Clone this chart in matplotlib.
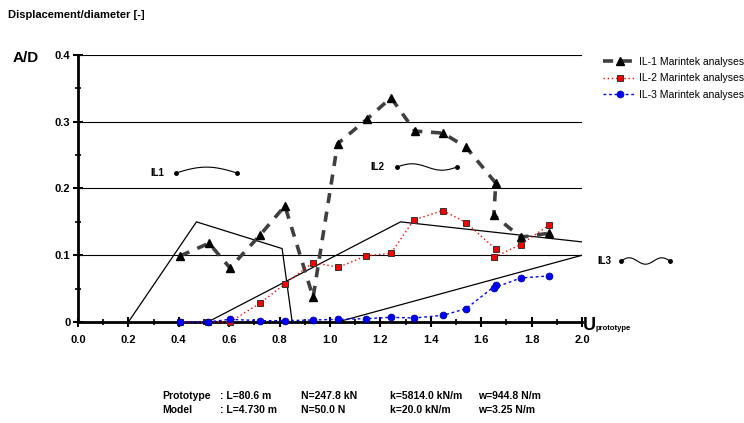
import numpy as np
import matplotlib.pyplot as plt
from matplotlib.ticker import MultipleLocator, FormatStrFormatter, FixedFormatter

plt.rcParams['font.family'] = ['Liberation Sans', 'DejaVu Sans']

# IL-1 Marintek analyses
il1_u = [0.405, 0.52, 0.603, 0.722, 0.821, 0.933, 1.03, 1.147, 1.242, 1.337,
         1.448, 1.54, 1.658, 1.65, 1.757, 1.869]
il1_ad = [0.099, 0.118, 0.081, 0.130, 0.174, 0.037, 0.267, 0.304, 0.336, 0.286,
          0.283, 0.262, 0.208, 0.160, 0.127, 0.133]

# IL-2 Marintek analyses
il2_u = [0.405, 0.515, 0.603, 0.722, 0.821, 0.933, 1.033, 1.143, 1.242, 1.333,
         1.448, 1.54, 1.658, 1.65, 1.757, 1.869]
il2_ad = [0.0, 0.0, 0.0, 0.028, 0.057, 0.089, 0.082, 0.099, 0.103, 0.153,
          0.167, 0.149, 0.109, 0.097, 0.116, 0.145]

# IL-3 Marintek analyses
il3_u = [0.405, 0.515, 0.603, 0.722, 0.821, 0.933, 1.033, 1.143, 1.242, 1.333,
         1.448, 1.54, 1.658, 1.65, 1.757, 1.869]
il3_ad = [0.0, 0.0, 0.004, 0.002, 0.002, 0.003, 0.004, 0.005, 0.007, 0.006,
          0.010, 0.020, 0.055, 0.051, 0.066, 0.069]

# lock-in envelopes
env1_u = [0.2, 0.47, 0.81, 0.85]
env1_ad = [0.0, 0.15, 0.11, 0.0]
env2_u = [0.515, 1.28, 2.0]
env2_ad = [0.0, 0.15, 0.12]
env3_u = [1.03, 2.0]
env3_ad = [0.0, 0.1]

y_ticklabels = ['0', '0.1', '0.2', '0.3', '0.4']

prototype = ['Prototype', ': L=80.6 m', 'N=247.8 kN', 'k=5814.0 kN/m', 'w=944.8 N/m']
model = ['Model', ': L=4.730 m', 'N=50.0 N', 'k=20.0 kN/m', 'w=3.25 N/m']

fig = plt.figure(figsize=(7.44, 4.23), dpi=100)
ax = fig.add_axes([78 / 744, 1 - 322 / 423, 504 / 744, 267 / 423])

for y in [0.1, 0.2, 0.3, 0.4]:
    ax.axhline(y, color='black', lw=0.8, zorder=1)

ax.plot(env1_u, env1_ad, color='black', lw=0.9, zorder=2)
ax.plot(env2_u, env2_ad, color='black', lw=0.9, zorder=2)
ax.plot(env3_u, env3_ad, color='black', lw=0.9, zorder=2)

ax.plot(il1_u, il1_ad, color='#404040', lw=2.6, dashes=(2.8, 2.4), marker='^',
        ms=6, mfc='black', mec='black', label='IL-1 Marintek analyses',
        zorder=4, clip_on=False)
ax.plot(il2_u, il2_ad, color='red', lw=1.0, ls=(0, (1, 2)), marker='s',
        ms=5, mfc='red', mec='#333333', mew=0.7, label='IL-2 Marintek analyses',
        zorder=5, clip_on=False)
ax.plot(il3_u, il3_ad, color='blue', lw=1.0, ls=(0, (2, 2)), marker='o',
        ms=5, mfc='blue', mec='#000080', mew=0.5, label='IL-3 Marintek analyses',
        zorder=6, clip_on=False)

ax.set_xlim(0, 2.0)
ax.set_ylim(0, 0.4)
ax.xaxis.set_major_locator(MultipleLocator(0.2))
ax.xaxis.set_minor_locator(MultipleLocator(0.1))
ax.xaxis.set_major_formatter(FormatStrFormatter('%.1f'))
ax.set_yticks([0, 0.1, 0.2, 0.3, 0.4])
ax.yaxis.set_major_formatter(FixedFormatter(y_ticklabels))
ax.yaxis.set_minor_locator(MultipleLocator(0.05))
ax.tick_params(which='major', direction='inout', length=7, width=1.5,
               labelsize=8)
ax.tick_params(which='minor', direction='inout', length=4, width=1.2)
ax.tick_params(axis='x', pad=6)
ax.tick_params(axis='y', pad=2)
for lab in ax.get_xticklabels() + ax.get_yticklabels():
    lab.set_fontweight('bold')

for side in ['top', 'right']:
    ax.spines[side].set_visible(False)
ax.spines['left'].set_linewidth(2)
ax.spines['bottom'].set_linewidth(2)
ax.patch.set_alpha(0)

# small sketches of the in-line modes
def sketch(x0, x1, y0, shape, label, lx):
    t = np.linspace(0, 1, 60)
    xs = x0 + (x1 - x0) * t
    ys = y0 + shape(t)
    ax.plot(xs, ys, color='black', lw=0.8, transform=ax.transAxes, clip_on=False)
    ax.plot([x0, x1], [y0, y0], 'o', color='black', ms=2.5,
            transform=ax.transAxes, clip_on=False)
    ax.text(lx, y0, label, transform=ax.transAxes, fontsize=7, fontweight='bold',
            ha='left', va='center')

sketch(98 / 504, 159 / 504, 149 / 267, lambda t: 0.022 * np.sin(np.pi * t),
       'IL1', 72 / 504)
sketch(319 / 504, 379 / 504, 155 / 267, lambda t: 0.012 * np.sin(2 * np.pi * t),
       'IL2', 292 / 504)
sketch(543 / 504, 592 / 504, 61 / 267, lambda t: 0.012 * np.sin(3 * np.pi * t),
       'IL3', 519 / 504)

fig.text(8 / 744, 1 - 15 / 423, 'Displacement/diameter [-]', fontsize=8,
         fontweight='bold', va='center')
fig.text(13 / 744, 1 - 58 / 423, 'A/D', fontsize=11, fontweight='bold', va='center')
fig.text(583 / 744, 1 - 325 / 423, 'U', fontsize=13, fontweight='bold', va='center')
fig.text(596 / 744, 1 - 328 / 423, 'prototype', fontsize=5.5, fontweight='bold',
         va='center')

cols = [162, 220, 301, 390, 478]
for row, y in [(prototype, 396), (model, 410)]:
    for txt, x in zip(row, cols):
        fig.text(x / 744, 1 - y / 423, txt, fontsize=7.5, fontweight='bold',
                 va='center')

fig.legend(loc='upper left', bbox_to_anchor=(603 / 744, 1 - 57 / 423),
           frameon=False, fontsize=7.5, handlelength=3.2, handletextpad=0.3,
           labelspacing=0.62, borderaxespad=0, borderpad=0)

fig.savefig('out.png', dpi=100)
